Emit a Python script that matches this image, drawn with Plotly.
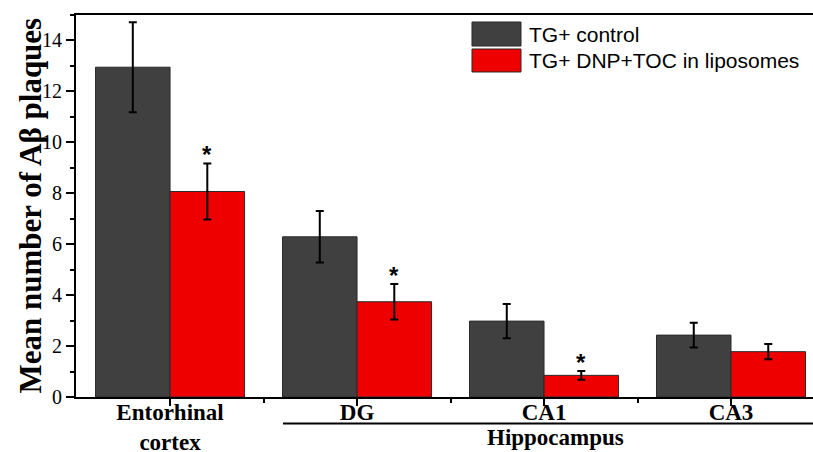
import plotly.graph_objects as go

# Regions and group means with standard errors
regions = ["Entorhinal<br>cortex", "DG", "CA1", "CA3"]
series_names = ["TG+ control", "TG+ DNP+TOC in liposomes"]
control_mean = [12.95, 6.29, 2.98, 2.43]
control_err = [1.77, 1.01, 0.67, 0.49]
treated_mean = [8.07, 3.74, 0.85, 1.78]
treated_err = [1.10, 0.70, 0.17, 0.30]
significant = [True, True, True, False]
y_ticks = [0, 2, 4, 6, 8, 10, 12, 14]

DARK = "#404040"
RED = "#EE0000"
SERIF = "Liberation Serif"
SANS = "Liberation Sans"

x_pos = list(range(len(regions)))

fig = go.Figure()
for name, means, errs, color in [
    (series_names[0], control_mean, control_err, DARK),
    (series_names[1], treated_mean, treated_err, RED),
]:
    fig.add_trace(go.Bar(
        x=x_pos, y=means, name=name, showlegend=False,
        marker=dict(color=color, line=dict(color="#2a2a2a", width=1)),
        error_y=dict(type="data", array=errs, visible=True,
                     color="black", thickness=2, width=4),
    ))

# Significance stars above the treated bars
offset = 0.5 * (1 - 0.203) / 2
for i, sig in enumerate(significant):
    if sig:
        fig.add_annotation(
            x=x_pos[i] + offset, y=treated_mean[i] + treated_err[i],
            xref="x", yref="y", text="<b>*</b>", showarrow=False,
            font=dict(family=SANS, size=24, color="black"),
            yanchor="bottom", yshift=-7,
        )

# Bracket line and group label for the hippocampal regions
fig.add_shape(type="line", xref="x", yref="paper",
              x0=0.604, x1=3.44, y0=-0.0695, y1=-0.0695,
              line=dict(color="black", width=2))
fig.add_annotation(x=2.06, y=-0.106, xref="x", yref="paper",
                   text="<b>Hippocampus</b>", showarrow=False,
                   font=dict(family=SERIF, size=23, color="black"),
                   xanchor="center", yanchor="middle")

# Y axis title
fig.add_annotation(x=-0.063, y=0.5, xref="paper", yref="paper",
                   text="<b>Mean number of A\u03b2 plaques</b>", textangle=-90,
                   showarrow=False,
                   font=dict(family=SERIF, size=31, color="black"),
                   xanchor="center", yanchor="middle")

# Legend drawn as swatches with labels
legend_rows = [(series_names[0], DARK, 0.9817, 0.9188, 0.950),
               (series_names[1], RED, 0.911, 0.8508, 0.8796)]
for label, color, ytop, ybot, ymid in legend_rows:
    fig.add_shape(type="rect", xref="paper", yref="paper",
                  x0=0.5373, x1=0.6038, y0=ybot, y1=ytop,
                  fillcolor=color, line=dict(color="#2a2a2a", width=1))
    fig.add_annotation(x=0.612, y=ymid, xref="paper", yref="paper",
                       text=label, showarrow=False,
                       font=dict(family=SANS, size=21, color="black"),
                       xanchor="left", yanchor="middle")

fig.update_layout(
    width=813, height=452, autosize=False,
    margin=dict(l=76, r=0, t=15, b=55),
    paper_bgcolor="white", plot_bgcolor="white",
    barmode="group", bargap=0.203, bargroupgap=0,
)
fig.update_xaxes(
    range=[-0.503, 3.4385], tickvals=x_pos, automargin=False,
    ticktext=["<b>" + r.replace("<br>", "</b><br><b>") + "</b>" for r in regions],
    tickfont=dict(family=SERIF, size=23, color="black"),
    ticklabelstandoff=-14,
    showline=True, linecolor="black", linewidth=2, mirror=True,
    ticks="outside", ticklen=7, tickwidth=1.5, tickcolor="black",
    minor=dict(tickvals=[0.5, 1.5, 2.5], ticks="outside", ticklen=4,
               tickwidth=1.5, tickcolor="black"),
    showgrid=False, zeroline=False,
)
fig.update_yaxes(
    range=[0, 15], tickvals=y_ticks, automargin=False,
    tickfont=dict(family=SERIF, size=20, color="black"),
    showline=True, linecolor="black", linewidth=2,
    ticks="outside", ticklen=8, tickwidth=1.5, tickcolor="black",
    minor=dict(dtick=1, tick0=1, ticks="outside", ticklen=4,
               tickwidth=1.5, tickcolor="black"),
    showgrid=False, zeroline=False,
)

fig.write_html("out.html")
